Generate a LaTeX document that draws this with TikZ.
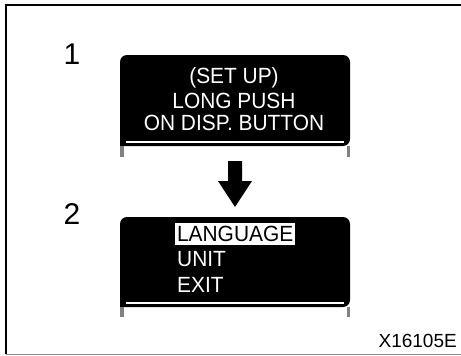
\documentclass[tikz,border=0pt]{standalone}
\usepackage{fontspec}
\setmainfont{Liberation Sans}
\begin{document}
\begin{tikzpicture}[x=1pt,y=-1pt,
  lcd/.style={fill=black, rounded corners=7pt},
  lcdtext/.style={text=white, font=\fontsize{22}{24}\selectfont, inner sep=0pt, anchor=center, xscale=0.95},
  legs/.style={draw=black!50, line width=3.5pt},
  step num/.style={font=\fontsize{30}{30}\selectfont, inner sep=0pt}]
\useasboundingbox (0,0) rectangle (461,356);
% frame
\draw[line width=1.5pt] (6,354) -- (6,5) -- (461,5);
\draw[black!45, line width=1.2pt] (6,354.5) -- (461,354.5);
% box 1
\path[lcd] (120,146) -- (120,55) -- (350,55) -- (350,146) [sharp corners] -- cycle;
\draw[white, line width=2pt] (126,142) -- (344,142);
\draw[legs] (121.75,146) -- (121.75,157);
\draw[legs] (348.25,146) -- (348.25,157);
\node[lcdtext] (t1) at (234,78) {(SET UP)};
\node[lcdtext] (t2) at (234,101) {LONG PUSH};
\node[lcdtext] (t3) at (234,123) {ON DISP. BUTTON};
% arrow
\fill (228,161) -- (242,161) -- (242,181) -- (252,181) -- (235,207) -- (218,181) -- (228,181) -- cycle;
% box 2
\path[lcd] (120,307) -- (120,217) -- (350,217) -- (350,307) [sharp corners] -- cycle;
\draw[white, line width=2pt] (126,303) -- (344,303);
\draw[legs] (121.75,307) -- (121.75,317);
\draw[legs] (348.25,307) -- (348.25,317);
\node[lcdtext, text=black, fill=white, inner xsep=2pt, inner ysep=3.5pt, anchor=west] (m1) at (175,234) {LANGUAGE};
\node[lcdtext, anchor=west] (m2) at (177,259.5) {UNIT};
\node[lcdtext, anchor=west] (m3) at (177,284.5) {EXIT};
% labels
\node[step num] (n1) at (72,54) {1};
\node[step num] (n2) at (72,214) {2};
\node[font=\fontsize{19}{20}\selectfont, inner sep=0pt, anchor=east] (code) at (457,341) {X16105E};
\end{tikzpicture}
\end{document}
